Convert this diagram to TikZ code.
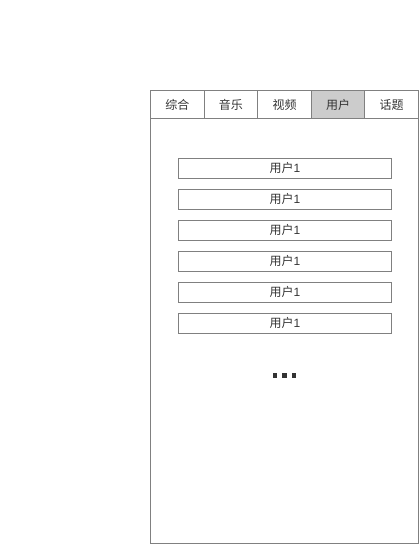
\documentclass[tikz,border=0pt]{standalone}
\usepackage{fontspec}
\newfontfamily\cjk{Noto Sans CJK SC}
\setmainfont{Liberation Sans}
\definecolor{frame}{HTML}{808080}
\definecolor{txt}{HTML}{333333}
\definecolor{sel}{HTML}{CCCCCC}
\begin{document}
\begin{tikzpicture}[x=1pt,y=-1pt,
  tab/.style={draw=frame,line width=1pt,minimum width=53.6pt,minimum height=28pt,anchor=north west,inner sep=0pt,font=\cjk\fontsize{12}{14}\selectfont,text=txt},
  item/.style={draw=frame,line width=0.8pt,minimum width=213pt,minimum height=20pt,anchor=north west,inner sep=0pt,font=\fontsize{12}{14}\selectfont,text=txt},
  dot/.style={fill=txt,minimum size=4.5pt,inner sep=0pt}]
\useasboundingbox (0,0) rectangle (419,544);
\node[draw=frame,line width=1pt,minimum width=268pt,minimum height=452.5pt,anchor=north west,inner sep=0pt] (frame) at (150,90) {};
\node[tab] (t1) at (150,90) {综合};
\node[tab] (t2) at (203.6,90) {音乐};
\node[tab] (t3) at (257.2,90) {视频};
\node[tab,fill=sel] (t4) at (310.8,90) {用户};
\node[tab] (t5) at (364.4,90) {话题};
\foreach \i in {0,...,5}{
  \node[item] (u\i) at (178,158+31*\i) {{\cjk 用户}1};
}
\node[dot] (d1) at (275,375.5) {};
\node[dot] (d2) at (284.5,375.5) {};
\node[dot] (d3) at (294,375.5) {};
\end{tikzpicture}
\end{document}
